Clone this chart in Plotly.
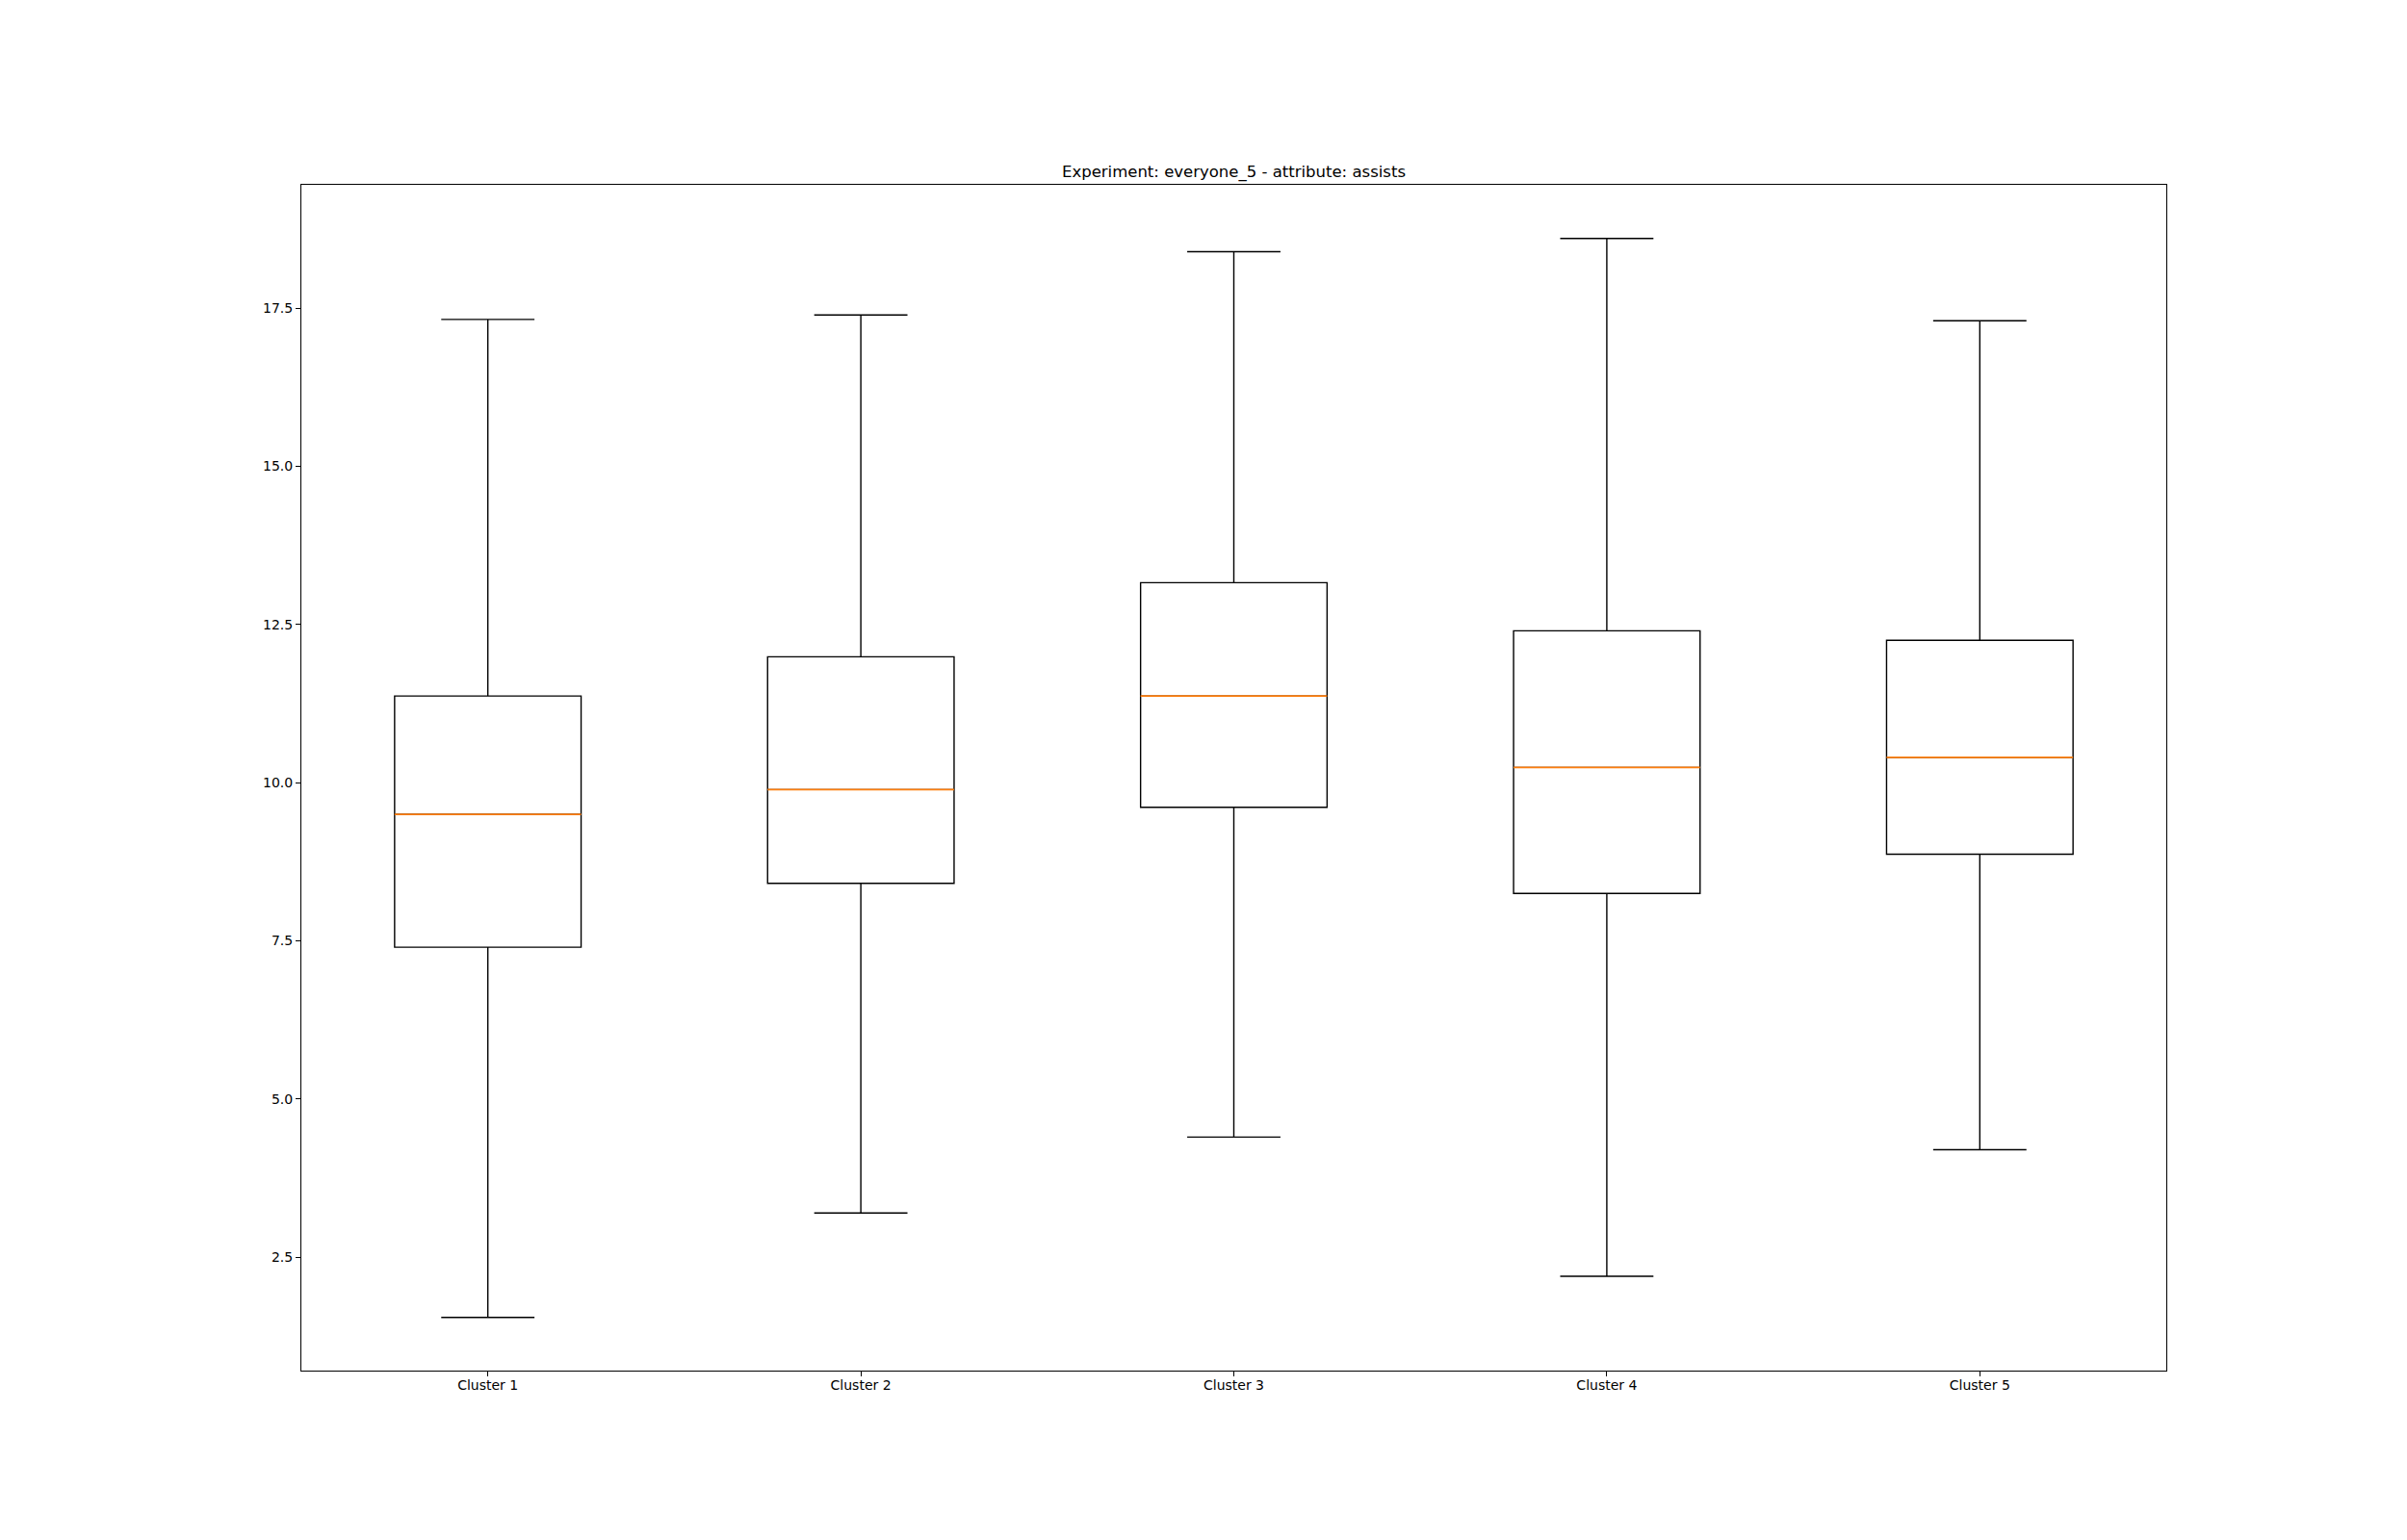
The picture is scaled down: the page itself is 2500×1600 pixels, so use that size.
import plotly.graph_objects as go

categories = ["Cluster 1", "Cluster 2", "Cluster 3", "Cluster 4", "Cluster 5"]
positions = [1, 2, 3, 4, 5]
lower_whisker = [1.55, 3.20, 4.40, 2.20, 4.20]
q1_values = [7.40, 8.41, 9.61, 8.25, 8.87]
median_values = [9.50, 9.89, 11.37, 10.24, 10.40]
q3_values = [11.37, 11.99, 13.16, 12.40, 12.25]
upper_whisker = [17.32, 17.39, 18.39, 18.60, 17.30]
y_ticks = [2.5, 5.0, 7.5, 10.0, 12.5, 15.0, 17.5]
title_text = "Experiment: everyone_5 - attribute: assists"

FONT = "DejaVu Sans"

fig = go.Figure()
fig.add_trace(go.Box(
    x=positions,
    q1=q1_values,
    median=median_values,
    q3=q3_values,
    lowerfence=lower_whisker,
    upperfence=upper_whisker,
    width=0.5,
    whiskerwidth=0.5,
    line=dict(color="black", width=1.4),
    fillcolor="rgba(0,0,0,0)",
    boxpoints=False,
    showlegend=False,
    hoverinfo="skip",
))

mx, my = [], []
for p, m in zip(positions, median_values):
    mx += [p - 0.25, p + 0.25, None]
    my += [m, m, None]
fig.add_trace(go.Scatter(
    x=mx, y=my, mode="lines",
    line=dict(color="#ff7f0e", width=1.8),
    showlegend=False, hoverinfo="skip",
))

fig.update_layout(
    width=2500, height=1600,
    margin=dict(l=313, r=250, t=192, b=176, autoexpand=False),
    paper_bgcolor="white", plot_bgcolor="white",
    font=dict(family=FONT, size=14, color="black"),
    title=dict(
        text=title_text,
        x=0.5, xref="paper", xanchor="center",
        y=1.0, yref="paper", yanchor="bottom",
        pad=dict(b=8),
        font=dict(family=FONT, size=16.5, color="black"),
    ),
)
fig.update_xaxes(
    range=[0.5, 5.5],
    tickmode="array", tickvals=positions, ticktext=categories,
    ticks="outside", ticklen=5, tickwidth=1, tickcolor="black",
    ticklabelstandoff=-3,
    showline=True, linecolor="black", linewidth=1, mirror=True,
    showgrid=False, zeroline=False,
    tickfont=dict(family=FONT, size=14, color="black"),
)
fig.update_yaxes(
    range=[0.709, 19.448],
    tickmode="array", tickvals=y_ticks, ticktext=[f"{v:.1f}" for v in y_ticks],
    ticks="outside", ticklen=5, tickwidth=1, tickcolor="black",
    showline=True, linecolor="black", linewidth=1, mirror=True,
    showgrid=False, zeroline=False,
    tickfont=dict(family=FONT, size=14, color="black"),
)

fig.write_html("out.html")
